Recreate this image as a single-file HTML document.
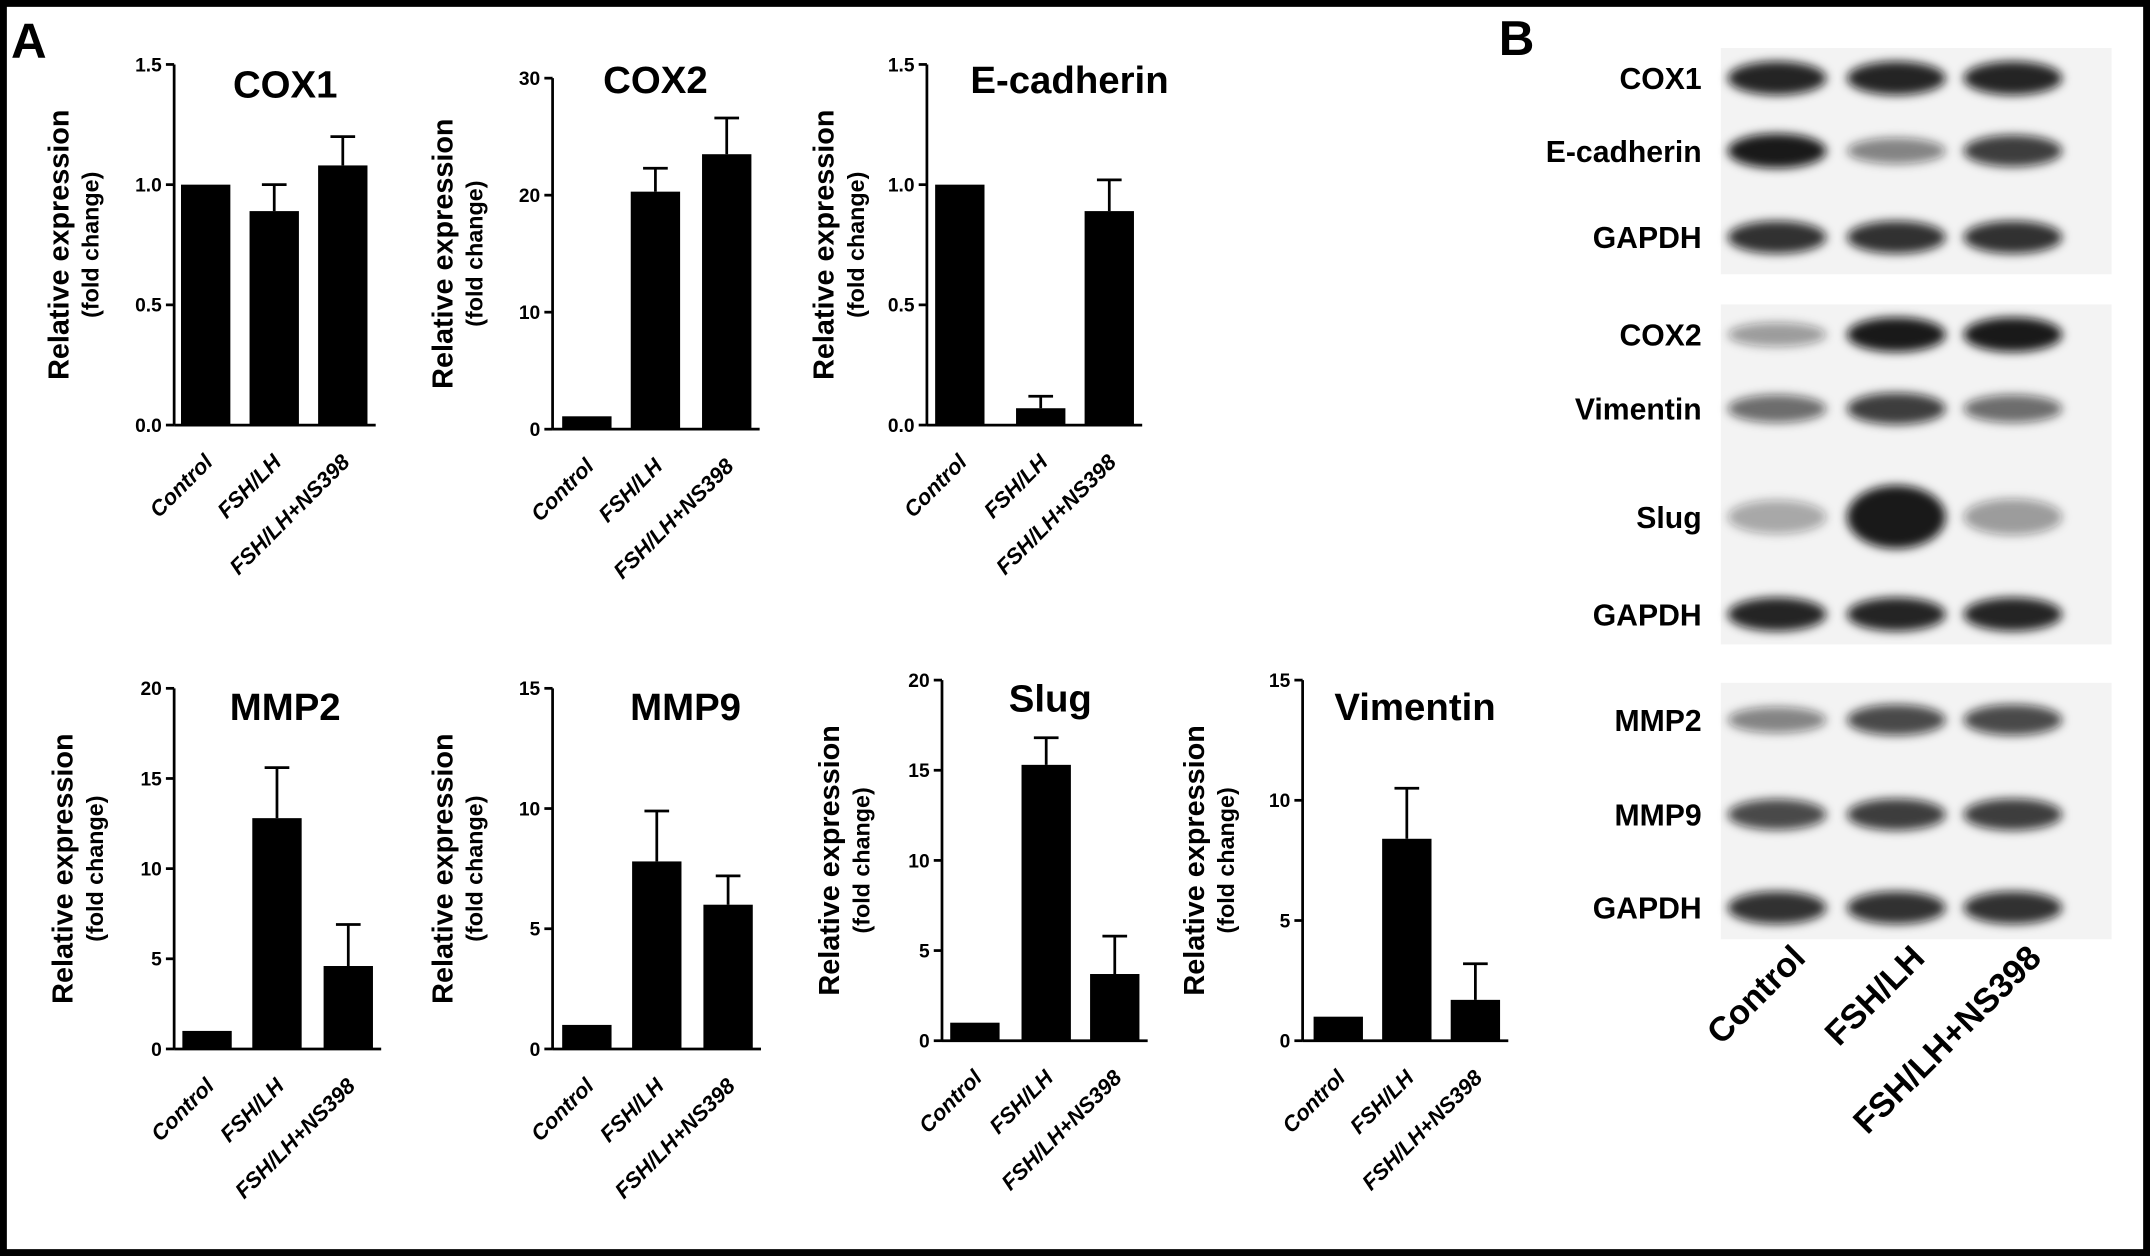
<!DOCTYPE html>
<html><head><meta charset="utf-8"><style>
html,body{margin:0;padding:0;background:#fff}
svg{display:block}
text{font-family:"Liberation Sans",Arial,sans-serif;font-weight:bold;fill:#000}
</style></head><body>
<svg id="fig" width="2150" height="1256" viewBox="0 0 1568 916" xmlns="http://www.w3.org/2000/svg">
<defs><filter id="blur" x="-30%" y="-100%" width="160%" height="300%"><feGaussianBlur stdDeviation="3.5"/></filter></defs>
<rect x="2.5" y="2.5" width="1563" height="911" fill="#fff" stroke="#000" stroke-width="5"/>
<text x="8" y="42" font-size="36">A</text>
<text x="1093" y="40" font-size="36">B</text>
<g id="charts"></g>
<g id="blots"></g>
</svg>
<script>
const categories = ["Control","FSH/LH","FSH/LH+NS398"];
const titles = ["COX1","COX2","E-cadherin","MMP2","MMP9","Slug","Vimentin"];
const cox1Values = [1.0,0.89,1.08];  const cox1Err = [0,0.11,0.12];
const cox2Values = [1.1,20.3,23.5];  const cox2Err = [0,2.0,3.1];
const ecadValues = [1.0,0.07,0.89];  const ecadErr = [0,0.05,0.13];
const mmp2Values = [1.0,12.8,4.6];   const mmp2Err = [0,2.8,2.3];
const mmp9Values = [1.0,7.8,6.0];    const mmp9Err = [0,2.1,1.2];
const slugValues = [1.0,15.3,3.7];   const slugErr = [0,1.5,2.1];
const vimValues = [1.0,8.4,1.7];     const vimErr = [0,2.1,1.5];
const cox1Ticks = ["0.0","0.5","1.0","1.5"];
const cox2Ticks = ["0","10","20","30"];
const ecadTicks = ["0.0","0.5","1.0","1.5"];
const mmp2Ticks = ["0","5","10","15","20"];
const mmp9Ticks = ["0","5","10","15"];
const slugTicks = ["0","5","10","15","20"];
const vimTicks = ["0","5","10","15"];
const blotLabels = ["COX1","E-cadherin","GAPDH","COX2","Vimentin","Slug","GAPDH","MMP2","MMP9","GAPDH"];
const blotIntensity = [[0.9,0.9,0.9],[0.95,0.5,0.8],[0.85,0.85,0.85],[0.4,0.95,0.95],[0.6,0.8,0.6],[0.35,0.95,0.4],[0.9,0.9,0.9],[0.5,0.75,0.75],[0.75,0.8,0.8],[0.85,0.85,0.85]];

const NS="http://www.w3.org/2000/svg";
function mk(tag,attrs,parent,txt){const e=document.createElementNS(NS,tag);for(const k in attrs)e.setAttribute(k,attrs[k]);if(txt!==undefined)e.textContent=txt;parent.appendChild(e);return e;}
const charts=document.getElementById('charts');
const layout=[
 {ax:127,top:47,bot:310,max:1.5,bx:[132,182,232],tx:208,ty:71,lx:42,v:cox1Values,e:cox1Err,t:cox1Ticks,n:'cox1'},
 {ax:403,top:57,bot:313,max:30,bx:[410,460,512],tx:478,ty:68,lx:322,v:cox2Values,e:cox2Err,t:cox2Ticks,n:'cox2'},
 {ax:676,top:47,bot:310,max:1.5,bx:[682,741,791],tx:780,ty:68,lx:600,v:ecadValues,e:ecadErr,t:ecadTicks,n:'ecadherin'},
 {ax:127,top:502,bot:765,max:20,bx:[133,184,236],tx:208,ty:525,lx:45,v:mmp2Values,e:mmp2Err,t:mmp2Ticks,n:'mmp2'},
 {ax:403,top:502,bot:765,max:15,bx:[410,461,513],tx:500,ty:525,lx:322,v:mmp9Values,e:mmp9Err,t:mmp9Ticks,n:'mmp9'},
 {ax:687,top:496,bot:759,max:20,bx:[693,745,795],tx:766,ty:519,lx:604,v:slugValues,e:slugErr,t:slugTicks,n:'slug'},
 {ax:950,top:496,bot:759,max:15,bx:[958,1008,1058],tx:1032,ty:525,lx:870,v:vimValues,e:vimErr,t:vimTicks,n:'vimentin'}
];
layout.forEach((L,i)=>{
 const g=mk('g',{},charts);
 
 
 const y=v=>L.bot-(v/L.max)*(L.bot-L.top);
 const bw=36, axEnd=L.bx[2]+bw+6;
 const t=mk('text',{x:L.tx,y:L.ty,'font-size':28,'text-anchor':'middle'},g,titles[i]);
 
 
 const yl=mk('text',{transform:`translate(${L.lx+8},${(L.top+L.bot)/2}) rotate(-90)`,'font-size':21,'text-anchor':'middle'},g,'Relative expression');
 
 
 const yl2=mk('text',{transform:`translate(${L.lx+30},${(L.top+L.bot)/2}) rotate(-90)`,'font-size':17,'text-anchor':'middle'},g,'(fold change)');
 
 
 const ya=mk('line',{x1:L.ax,y1:L.top,x2:L.ax,y2:L.bot,stroke:'#000','stroke-width':2},g);
 
 
 const xa=mk('line',{x1:L.ax,y1:L.bot,x2:axEnd,y2:L.bot,stroke:'#000','stroke-width':2},g);
 
 
 L.t.forEach((lab,k)=>{
  const v=k*L.max/(L.t.length-1);
  mk('line',{x1:L.ax-6,y1:y(v),x2:L.ax,y2:y(v),stroke:'#000','stroke-width':2},g);
  const tl=mk('text',{x:L.ax-9,y:y(v)+5,'font-size':14,'text-anchor':'end'},g,lab);
  
  
 });
 L.v.forEach((v,k)=>{
  const x=L.bx[k];
  if(L.e[k]>0){
   const eb=mk('path',{d:`M${x+bw/2},${y(v)} V${y(v+L.e[k])} M${x+bw/2-9},${y(v+L.e[k])} H${x+bw/2+9}`,stroke:'#000','stroke-width':2,fill:'none'},g);
   
   
  }
  const b=mk('rect',{x:x,y:y(v),width:bw,height:L.bot-y(v),fill:'#000'},g);
  
  
  const cl=mk('text',{transform:`translate(${x+bw/2+6},${L.bot+28}) rotate(-45)`,'font-size':16,'text-anchor':'end','font-style':'italic'},g,categories[k]);
  
  
 });
});
// blots
const blots=document.getElementById('blots');
const rowY=[57,110,173,244,298,377,448,525,594,662];
const cols=[1296,1383,1468];
const strips=[[35,200],[222,470],[498,685]];
strips.forEach(s=>{const r=mk('rect',{x:1255,y:s[0],width:285,height:s[1]-s[0],fill:'#f3f3f3'},blots);
 
 });
blotLabels.forEach((lab,i)=>{
 const t=mk('text',{x:1241,y:rowY[i]+8,'font-size':22,'text-anchor':'end'},blots,lab);
 
 
 blotIntensity[i].forEach((a,k)=>{
  const h=lab==='Slug'?(6+a*18):(6+a*7);
  const e=mk('ellipse',{cx:cols[k],cy:rowY[i],rx:36,ry:h,fill:'#111','fill-opacity':a,filter:'url(#blur)'},blots);
  
  
 });
});
categories.forEach((c,k)=>{
 const t=mk('text',{transform:`translate(${cols[k]+22},${700}) rotate(-45)`,'font-size':25,'text-anchor':'end'},blots,c);
 
 
});
</script>
</body></html>
